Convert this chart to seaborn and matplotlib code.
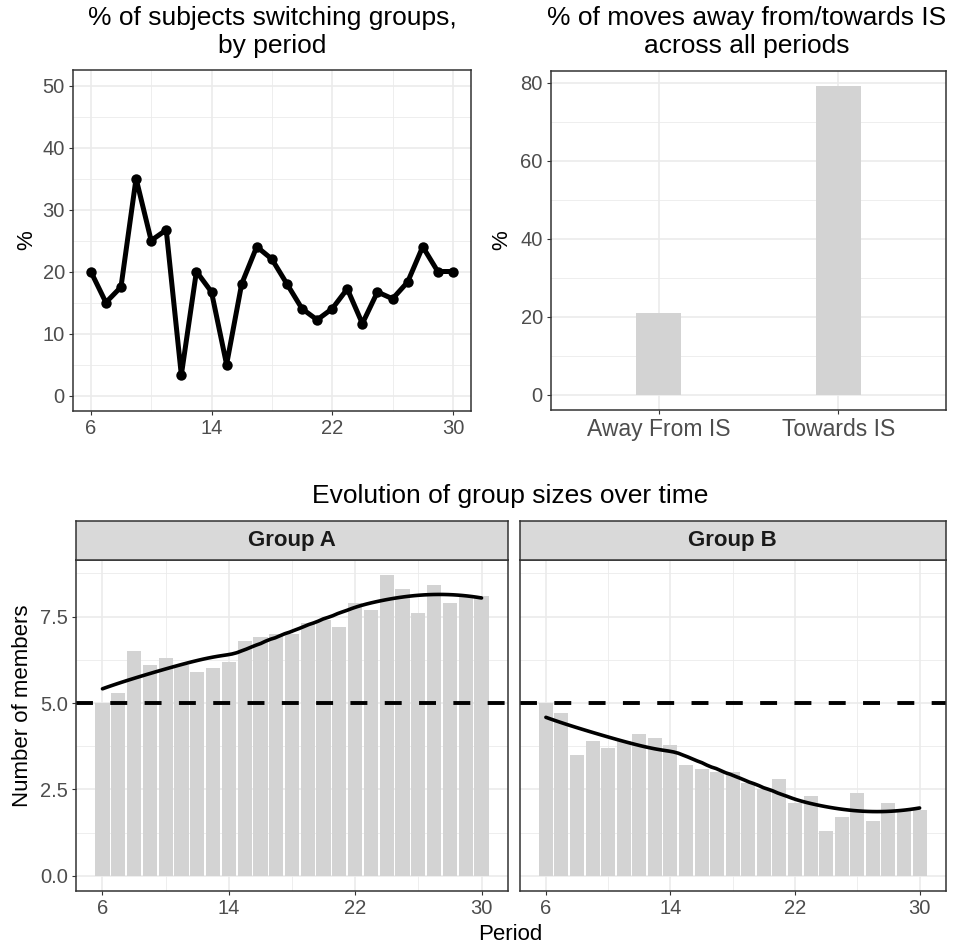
import numpy as np
import pandas as pd
import matplotlib
matplotlib.use("Agg")
import matplotlib.pyplot as plt
import seaborn as sns
from matplotlib.ticker import FixedLocator, FixedFormatter

# ---- data ----
periods = list(range(6, 31))
switch_pct = [20.0, 15.0, 17.5, 35.0, 25.0, 26.7, 3.3, 20.0, 16.7, 5.0,
              18.0, 24.0, 22.0, 18.0, 14.0, 12.2, 14.0, 17.2, 11.6, 16.7,
              15.6, 18.3, 24.0, 20.0, 20.0]
move_dirs = ["Away From IS", "Towards IS"]
move_pct = [21, 79]
group_names = ["Group A", "Group B"]
group_a = [5.0, 5.3, 6.5, 6.1, 6.3, 6.1, 5.9, 6.0, 6.2, 6.8,
           6.9, 7.0, 7.0, 7.3, 7.4, 7.2, 7.9, 7.7, 8.7, 8.3,
           7.6, 8.4, 7.9, 8.1, 8.1]
group_b = [5.0, 4.7, 3.5, 3.9, 3.7, 3.9, 4.1, 4.0, 3.8, 3.2,
           3.1, 3.0, 3.0, 2.7, 2.5, 2.8, 2.1, 2.3, 1.3, 1.7,
           2.4, 1.6, 2.1, 1.9, 1.9]
equal_size = 5.0
period_ticks = [6, 14, 22, 30]

# ---- style ----
sns.set_theme(style="white")
plt.rcParams["font.family"] = ["Liberation Sans", "DejaVu Sans"]
plt.rcParams["lines.scale_dashes"] = False

W, H = 955, 949
fig = plt.figure(figsize=(W / 100, H / 100), dpi=100)

BAR = "#D3D3D3"
GRID = "#EBEBEB"
BORDER = "#333333"
TICKLAB = "#4D4D4D"
TICK_FS = 14.5
AXTITLE_FS = 16
TITLE_FS = 19


def px_axes(l, t, r, b):
    return fig.add_axes([l / W, 1 - b / H, (r - l) / W, (b - t) / H])


def style_panel(ax, xmajor=None, xminor=None, ymajor=None, yminor=None,
                yfmt=None, show_y=True):
    ax.set_facecolor("white")
    for s in ax.spines.values():
        s.set_visible(True)
        s.set_color(BORDER)
        s.set_linewidth(1.1)
    if xmajor is not None:
        ax.xaxis.set_major_locator(FixedLocator(xmajor))
    if xminor is not None:
        ax.xaxis.set_minor_locator(FixedLocator(xminor))
    ax.yaxis.set_major_locator(FixedLocator(ymajor))
    ax.yaxis.set_minor_locator(FixedLocator(yminor))
    if yfmt is not None:
        ax.yaxis.set_major_formatter(FixedFormatter(yfmt))
    ax.grid(True, which="major", color=GRID, linewidth=1.2)
    ax.grid(True, which="minor", color=GRID, linewidth=0.6)
    ax.set_axisbelow(True)
    ax.tick_params(which="major", length=3.2, width=0.8, color=BORDER,
                   labelcolor=TICKLAB, labelsize=TICK_FS, pad=2.5,
                   bottom=True, left=show_y, labelleft=show_y)
    ax.tick_params(which="minor", length=0, bottom=False, left=False)
    ax.set_xlabel("")
    ax.set_ylabel("")


def loess(x, y, xs, span=0.75):
    """Local quadratic regression with tricube weights."""
    x = np.asarray(x, float)
    y = np.asarray(y, float)
    n = len(x)
    q = int(np.floor(n * span))
    fit = []
    for x0 in xs:
        d = np.abs(x - x0)
        h = np.sort(d)[q - 1]
        w = np.clip(1 - (d / h) ** 3, 0, None) ** 3
        X = np.column_stack([np.ones(n), x - x0, (x - x0) ** 2])
        XtW = X.T * w
        beta = np.linalg.solve(XtW @ X, XtW @ y)
        fit.append(beta[0])
    return np.array(fit)


# ---- panel 1: share of subjects switching groups ----
ax1 = px_axes(72.7, 70, 471, 411)
df_switch = pd.DataFrame({"period": periods, "pct": switch_pct})
sns.lineplot(data=df_switch, x="period", y="pct", ax=ax1, color="black",
             linewidth=3.6, marker="o", markersize=7.5, markeredgewidth=0)
ax1.set_xlim(6 - 1.2, 30 + 1.2)
ax1.set_ylim(-2.5, 52.5)
style_panel(ax1, xmajor=period_ticks, xminor=[10, 18, 26],
            ymajor=[0, 10, 20, 30, 40, 50], yminor=[5, 15, 25, 35, 45])
ax1.set_xticklabels([str(t) for t in period_ticks])

# ---- panel 2: direction of moves ----
ax2 = px_axes(550.7, 71, 946, 410)
df_moves = pd.DataFrame({"dir": move_dirs, "pct": move_pct})
sns.barplot(data=df_moves, x="dir", y="pct", ax=ax2, color=BAR,
            saturation=1, width=0.25, linewidth=0)
ax2.set_xlim(-0.6, 1.6)
ax2.set_ylim(-3.95, 82.95)
style_panel(ax2, ymajor=[0, 20, 40, 60, 80], yminor=[10, 30, 50, 70])
ax2.xaxis.set_major_locator(FixedLocator([0, 1]))
ax2.set_xticklabels(move_dirs)
ax2.tick_params(axis="x", labelsize=16.5)

# ---- panels 3/4: group sizes over time ----
panel_box = {"Group A": (75.7, 508.3), "Group B": (519.5, 946)}
strip_top, panel_top, panel_bot = 520.7, 560, 891
sizes = {"Group A": group_a, "Group B": group_b}
xs = np.linspace(6, 30, 80)
for i, g in enumerate(group_names):
    l, r = panel_box[g]
    ax = px_axes(l, panel_top, r, panel_bot)
    df_g = pd.DataFrame({"period": periods, "members": sizes[g]})
    sns.barplot(data=df_g, x="period", y="members", ax=ax, color=BAR,
                saturation=1, width=0.9, linewidth=0, native_scale=True)
    smooth = pd.DataFrame({"period": xs,
                           "fit": loess(periods, sizes[g], xs)})
    sns.lineplot(data=smooth, x="period", y="fit", ax=ax, color="black",
                 linewidth=2.6)
    ax.axhline(equal_size, color="black", linewidth=2.8,
               linestyle=(0, (12.2, 12.5)))
    ax.set_xlim(5.55 - 1.245, 30.45 + 1.245)
    ax.set_ylim(-0.435, 9.135)
    style_panel(ax, xmajor=period_ticks, xminor=[10, 18, 26],
                ymajor=[0, 2.5, 5.0, 7.5], yminor=[1.25, 3.75, 6.25, 8.75],
                yfmt=["0.0", "2.5", "5.0", "7.5"], show_y=(i == 0))
    ax.set_xticklabels([str(t) for t in period_ticks])

    sax = px_axes(l, strip_top, r, panel_top)
    sax.set_facecolor("#D9D9D9")
    sax.set_xticks([])
    sax.set_yticks([])
    for s in sax.spines.values():
        s.set_visible(True)
        s.set_color(BORDER)
        s.set_linewidth(1.1)
    sax.text(0.5, 0.5, g, transform=sax.transAxes, ha="center",
             va="center", fontsize=16, fontweight="bold",
             fontstretch="normal", family=["Liberation Sans", "DejaVu Sans"],
             color="#1A1A1A")

# ---- titles and axis titles ----
fig.text(271.9 / W, 1 - 25 / H, "% of subjects switching groups,",
         ha="center", va="baseline", fontsize=TITLE_FS, color="black")
fig.text(271.9 / W, 1 - 53.3 / H, "by period",
         ha="center", va="baseline", fontsize=TITLE_FS, color="black")
fig.text(747 / W, 1 - 25 / H, "% of moves away from/towards IS",
         ha="center", va="baseline", fontsize=TITLE_FS, color="black")
fig.text(747 / W, 1 - 53.3 / H, "across all periods",
         ha="center", va="baseline", fontsize=TITLE_FS, color="black")
fig.text(510.5 / W, 1 - 503 / H, "Evolution of group sizes over time",
         ha="center", va="baseline", fontsize=TITLE_FS, color="black")

fig.text(27 / W, 1 - 240.5 / H, "%", rotation=90, ha="center", va="center",
         fontsize=AXTITLE_FS, color="black")
fig.text(501.7 / W, 1 - 240.5 / H, "%", rotation=90, ha="center",
         va="center", fontsize=AXTITLE_FS, color="black")
fig.text(22 / W, 1 - 706 / H, "Number of members", rotation=90,
         ha="center", va="center", fontsize=AXTITLE_FS, color="black")
fig.text(510.5 / W, 1 - 940 / H, "Period", ha="center", va="baseline",
         fontsize=AXTITLE_FS, color="black")

fig.savefig("out.png", dpi=100, facecolor="white")
